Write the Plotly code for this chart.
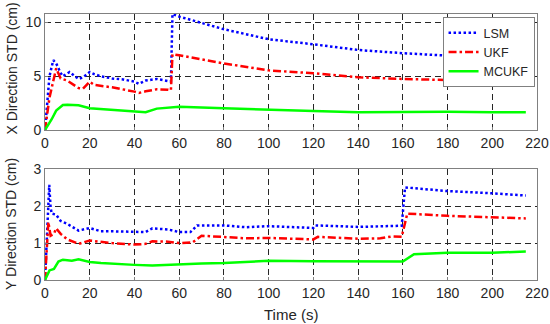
import plotly.graph_objects as go
from plotly.subplots import make_subplots

# ---- Top panel (X direction) ----
t_lsm_x = [0, 1, 2, 3.7, 5, 7, 8, 11, 15, 17, 20, 22, 25, 30, 35, 40, 42, 45, 50, 55, 56.3, 57, 60, 80, 100, 120, 140, 160, 180, 200, 215]
lsm_x = [0, 3.0, 5.0, 6.5, 6.2, 5.3, 5.0, 5.4, 4.75, 4.9, 5.4, 5.2, 5.0, 4.8, 4.7, 4.5, 4.3, 4.6, 4.75, 4.55, 4.5, 10.8, 10.56, 9.38, 8.45, 7.98, 7.45, 7.15, 6.9, 6.7, 6.55]

t_ukf_x = [0, 2, 5, 7, 10, 15, 17, 20, 22, 30, 40, 42, 45, 50, 55, 56.3, 57, 60, 80, 100, 120, 140, 160, 180, 200, 215]
ukf_x = [0, 3.0, 5.75, 4.8, 4.6, 3.9, 3.85, 4.5, 4.2, 3.97, 3.57, 3.45, 3.6, 3.79, 3.75, 3.7, 7.05, 6.95, 6.2, 5.55, 5.28, 4.91, 4.75, 4.66, 4.57, 4.47]

t_mc_x = [0, 3, 5, 8, 10, 15, 20, 30, 40, 45, 50, 60, 80, 100, 120, 140, 160, 180, 200, 215]
mc_x = [0, 1.0, 1.8, 2.33, 2.35, 2.3, 2.02, 1.86, 1.68, 1.65, 1.99, 2.17, 2.02, 1.86, 1.77, 1.65, 1.7, 1.7, 1.65, 1.65]

# ---- Bottom panel (Y direction) ----
t_lsm_y = [0, 1.9, 2.5, 3, 5, 7, 10, 15, 20, 25, 30, 40, 45, 48, 55, 60, 65, 68, 80, 90, 100, 120, 121, 140, 159.5, 161, 180, 200, 215]
lsm_y = [0, 2.58, 1.97, 1.8, 1.77, 1.6, 1.52, 1.34, 1.41, 1.32, 1.32, 1.32, 1.3, 1.4, 1.37, 1.3, 1.3, 1.48, 1.48, 1.43, 1.46, 1.41, 1.48, 1.44, 1.47, 2.51, 2.41, 2.35, 2.29]

t_ukf_y = [0, 1.5, 2.5, 4, 5, 7, 10, 15, 20, 30, 40, 45, 48, 55, 60, 66, 70, 80, 90, 100, 120, 122, 140, 150, 155, 159.5, 162, 180, 200, 215]
ukf_y = [0, 1.57, 1.2, 1.25, 1.4, 1.25, 1.1, 0.98, 1.07, 1.0, 0.96, 0.98, 1.05, 1.04, 1.0, 1.02, 1.2, 1.16, 1.13, 1.14, 1.1, 1.17, 1.12, 1.13, 1.18, 1.17, 1.8, 1.74, 1.71, 1.67]

t_mc_y = [0, 2, 4, 6, 8, 12, 15, 20, 25, 30, 40, 48, 60, 70, 80, 100, 120, 140, 160, 165, 180, 200, 215]
mc_y = [0, 0.26, 0.3, 0.5, 0.55, 0.52, 0.56, 0.49, 0.46, 0.45, 0.41, 0.39, 0.43, 0.45, 0.46, 0.52, 0.51, 0.51, 0.5, 0.7, 0.74, 0.74, 0.77]

x_ticks = [0, 20, 40, 60, 80, 100, 120, 140, 160, 180, 200, 220]

BLUE = "#0000FF"
RED = "#FF0000"
GREEN = "#00FF00"
LW = 2.5
TXT = "#262626"
FONT = "Liberation Sans, Arial, sans-serif"
DOT = "2.5px,2.5px"
DASHDOT = "8px,3px,2.5px,3px"

fig = make_subplots(rows=2, cols=1, vertical_spacing=0.15)

fig.add_trace(go.Scatter(x=t_lsm_x, y=lsm_x, mode="lines", name="LSM",
                         line=dict(color=BLUE, width=LW, dash=DOT)), row=1, col=1)
fig.add_trace(go.Scatter(x=t_ukf_x, y=ukf_x, mode="lines", name="UKF",
                         line=dict(color=RED, width=LW, dash=DASHDOT)), row=1, col=1)
fig.add_trace(go.Scatter(x=t_mc_x, y=mc_x, mode="lines", name="MCUKF",
                         line=dict(color=GREEN, width=LW)), row=1, col=1)

fig.add_trace(go.Scatter(x=t_lsm_y, y=lsm_y, mode="lines", name="LSM", showlegend=False,
                         line=dict(color=BLUE, width=LW, dash=DOT)), row=2, col=1)
fig.add_trace(go.Scatter(x=t_ukf_y, y=ukf_y, mode="lines", name="UKF", showlegend=False,
                         line=dict(color=RED, width=LW, dash=DASHDOT)), row=2, col=1)
fig.add_trace(go.Scatter(x=t_mc_y, y=mc_y, mode="lines", name="MCUKF", showlegend=False,
                         line=dict(color=GREEN, width=LW)), row=2, col=1)

axis_common = dict(showline=True, linecolor="#808080", linewidth=1, mirror=True,
                   showgrid=True, gridcolor=TXT, gridwidth=1, griddash="6px,4px",
                   ticks="inside", ticklen=3, tickcolor="#808080", zeroline=False,
                   automargin=False, tickfont=dict(size=14, color=TXT))

fig.update_xaxes(range=[0, 220], tickvals=x_ticks, **axis_common)
fig.update_yaxes(**axis_common)

fig.update_yaxes(range=[0, 10.8], tickvals=[0, 5, 10], row=1, col=1)
fig.update_yaxes(range=[0, 3], tickvals=[0, 1, 2, 3], row=2, col=1)

fig.update_layout(
    width=550, height=324,
    margin=dict(l=45, r=13, t=14, b=44),
    paper_bgcolor="white", plot_bgcolor="white",
    font=dict(family=FONT, size=14, color=TXT),
    legend=dict(x=0.995, y=0.988, xanchor="right", yanchor="top",
                bgcolor="white", bordercolor="#808080", borderwidth=1,
                font=dict(size=12.5), tracegroupgap=0, itemwidth=30),
    annotations=[
        dict(text="X Direction STD (cm)", xref="paper", yref="paper", x=-0.069, y=0.795,
             textangle=-90, showarrow=False, xanchor="center", yanchor="middle",
             font=dict(size=14, color=TXT)),
        dict(text="Y Direction STD (cm)", xref="paper", yref="paper", x=-0.069, y=0.211,
             textangle=-90, showarrow=False, xanchor="center", yanchor="middle",
             font=dict(size=14, color=TXT)),
        dict(text="Time (s)", xref="paper", yref="paper", x=0.4996, y=-0.128,
             showarrow=False, xanchor="center", yanchor="middle",
             font=dict(size=15, color=TXT)),
    ],
)
fig.layout.yaxis.domain = [0.564, 1.0]
fig.layout.yaxis2.domain = [0.0, 0.416]

# remove the default 8px page margin so the 550x324 figure fills the window exactly
fig.write_html("out.html", config={"displayModeBar": False},
               post_script="document.body.style.margin='0px';")
